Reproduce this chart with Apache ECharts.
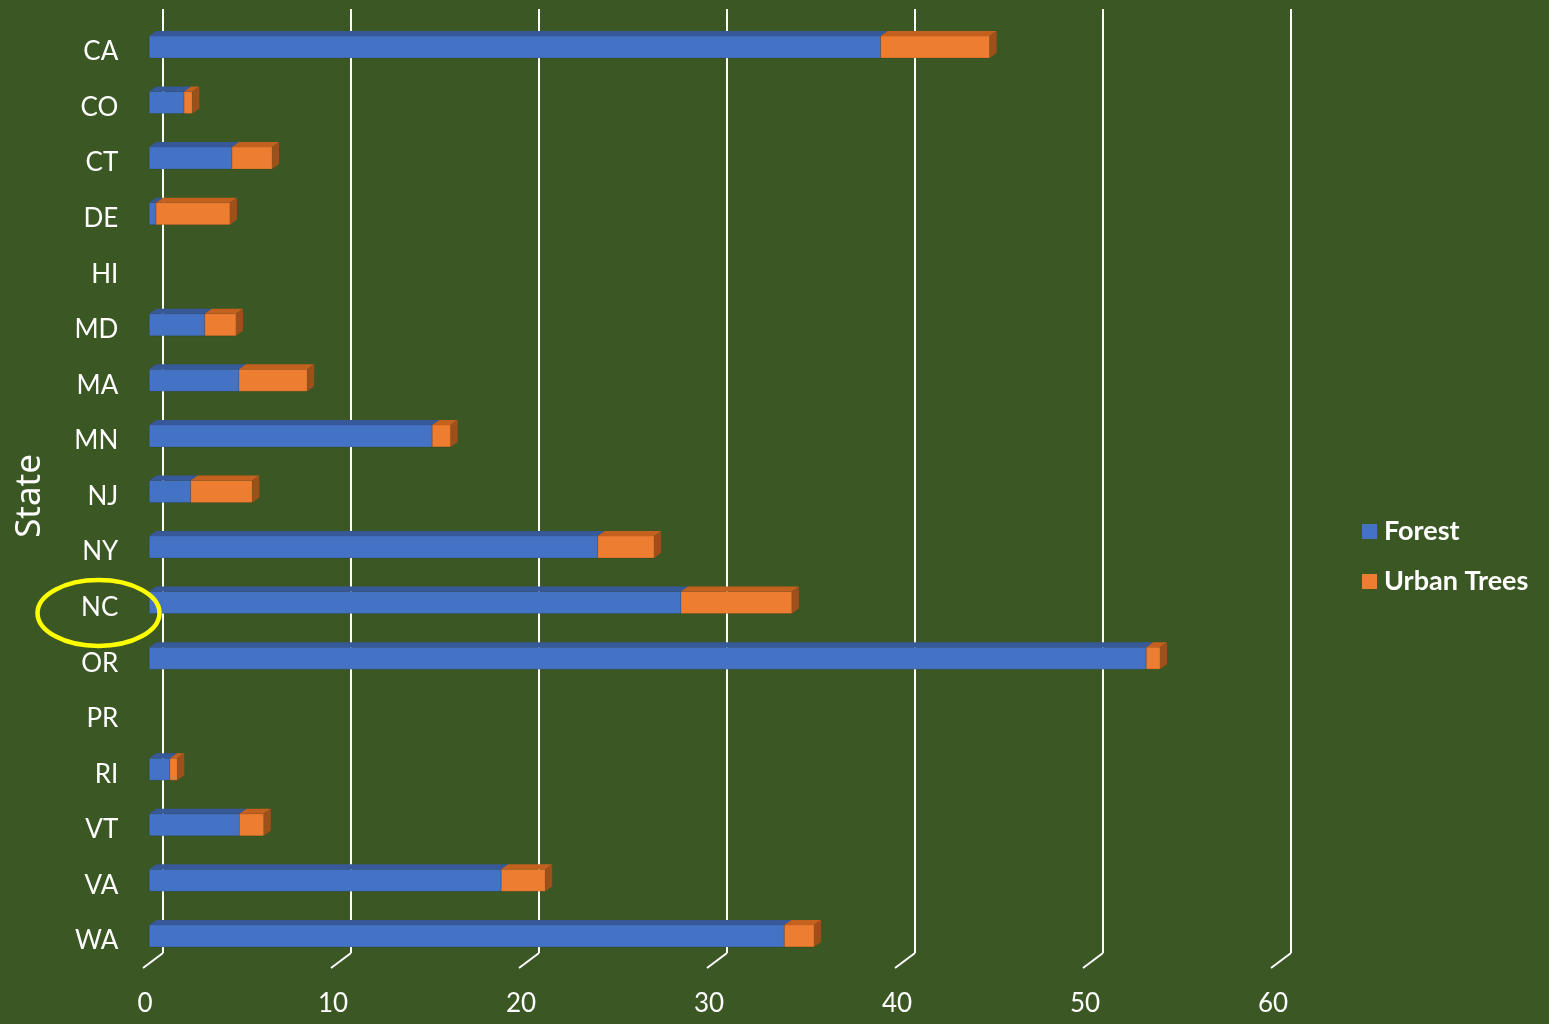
<!DOCTYPE html>
<html>
<head>
<meta charset="utf-8">
<title>Forest and Urban Trees by State</title>
<script src="https://cdn.jsdelivr.net/npm/echarts@6/dist/echarts.min.js"></script>
<style>
  html, body { margin: 0; padding: 0; background: #3A5724; }
  #chart { width: 1549px; height: 1024px; }
</style>
</head>
<body>
<div id="chart"></div>
<script>
// Categories and values (stacked: Forest + Urban Trees)
const states = ['CA', 'CO', 'CT', 'DE', 'HI', 'MD', 'MA', 'MN', 'NJ', 'NY', 'NC', 'OR', 'PR', 'RI', 'VT', 'VA', 'WA'];
const forest = [38.9, 1.85, 4.4, 0.36, 0, 2.95, 4.77, 15.05, 2.2, 23.85, 28.28, 53.03, 0, 1.1, 4.79, 18.72, 33.78];
const urbanTrees = [5.8, 0.44, 2.13, 3.93, 0, 1.66, 3.63, 0.98, 3.28, 3.0, 5.9, 0.73, 0, 0.39, 1.3, 2.34, 1.58];
const xTicks = [0, 10, 20, 30, 40, 50, 60];
const seriesNames = ['Forest', 'Urban Trees'];

const chart = echarts.init(document.getElementById('chart'), null, { renderer: 'canvas' });

// 3D look: every bar segment gets a front face, a top face and a right side face
const DEPTH_X = 7, DEPTH_Y = 5, BAR_H = 22;
const palette = {
  Forest: { front: '#4472C4', top: '#37599A', side: '#2F4F8A' },
  'Urban Trees': { front: '#ED7D31', top: '#C4611F', side: '#9E501B' }
};

function makeBarRenderer(name) {
  const c = palette[name];
  return function (params, api) {
    const a = api.value(0), b = api.value(1), cat = api.value(2);
    if (b - a <= 0) return null;
    const s = api.coord([a, cat]);
    const e = api.coord([b, cat]);
    const x0 = s[0], x1 = e[0];
    const y0 = s[1] - BAR_H / 2, y1 = y0 + BAR_H;
    return {
      type: 'group',
      children: [
        { type: 'rect', shape: { x: x0, y: y0, width: x1 - x0, height: BAR_H },
          style: { fill: c.front, stroke: 'rgba(0,0,0,0.12)', lineWidth: 1 } },
        { type: 'polygon', shape: { points: [[x0, y0], [x1, y0], [x1 + DEPTH_X, y0 - DEPTH_Y], [x0 + DEPTH_X, y0 - DEPTH_Y]] },
          style: { fill: c.top } },
        { type: 'polygon', shape: { points: [[x1, y0], [x1 + DEPTH_X, y0 - DEPTH_Y], [x1 + DEPTH_X, y1 - DEPTH_Y], [x1, y1]] },
          style: { fill: c.side } }
      ]
    };
  };
}

const forestData = states.map((s, i) => [0, forest[i], i]);
const urbanData = states.map((s, i) => [forest[i], forest[i] + urbanTrees[i], i]);

const labelFont = 'Lato, "Open Sans", sans-serif';

const option = {
  backgroundColor: '#3A5724',
  animation: false,
  grid: [
    // back wall with gridlines
    { left: 163, top: 9, width: 1128, height: 944 },
    // bars
    { left: 149.3, top: 19.2, width: 1128, height: 944.5 },
    // front floor edge carrying the value labels
    { left: 145, top: 9, width: 1128, height: 959 },
    // category labels, set a little lower than the bar faces
    { left: 149.3, top: 24.2, width: 1128, height: 944.5 }
  ],
  xAxis: [
    { gridIndex: 0, type: 'value', min: 0, max: 60, interval: 10,
      axisLine: { show: false }, axisTick: { show: false }, axisLabel: { show: false },
      splitLine: { show: true, lineStyle: { color: '#FFFFFF', width: 2 } } },
    { gridIndex: 1, type: 'value', min: 0, max: 60, interval: 10,
      axisLine: { show: false }, axisTick: { show: false }, axisLabel: { show: false }, splitLine: { show: false } },
    { gridIndex: 2, type: 'value', min: 0, max: 60, interval: 10,
      axisLine: { show: false }, axisTick: { show: false }, splitLine: { show: false },
      axisLabel: { show: true, color: '#FFFFFF', fontSize: 26, fontFamily: labelFont, margin: 23 } },
    { gridIndex: 3, type: 'value', min: 0, max: 60, show: false }
  ],
  yAxis: [
    { gridIndex: 0, type: 'value', min: 0, max: 1, show: false },
    { gridIndex: 1, type: 'category', data: states, inverse: true,
      axisLine: { show: false }, axisTick: { show: false }, splitLine: { show: false }, axisLabel: { show: false } },
    { gridIndex: 2, type: 'value', min: 0, max: 1, show: false },
    { gridIndex: 3, type: 'category', data: states, inverse: true,
      axisLine: { show: false }, axisTick: { show: false }, splitLine: { show: false },
      axisLabel: { color: '#FFFFFF', fontSize: 26, fontFamily: labelFont, margin: 31 } }
  ],
  legend: {
    data: seriesNames,
    orient: 'vertical',
    left: 1357,
    top: 513,
    icon: 'rect',
    itemWidth: 15,
    itemHeight: 15,
    itemGap: 23,
    textStyle: { color: '#FFFFFF', fontSize: 27, fontWeight: 'bold', fontFamily: labelFont, padding: [0, 0, 0, 2] }
  },
  series: [
    {
      // diagonal floor ticks joining the wall gridlines to the front edge
      name: 'floorTicks', type: 'custom', xAxisIndex: 0, yAxisIndex: 0,
      data: xTicks.map(v => [v, 0]), silent: true, z: 1,
      renderItem: function (params, api) {
        const p = api.coord([api.value(0), api.value(1)]);
        return { type: 'line', shape: { x1: p[0], y1: p[1], x2: p[0] - 20, y2: p[1] + 15 },
          style: { stroke: '#FFFFFF', lineWidth: 2 } };
      }
    },
    {
      name: 'Forest', type: 'custom', xAxisIndex: 1, yAxisIndex: 1, z: 3,
      itemStyle: { color: palette.Forest.front },
      encode: { x: [0, 1], y: 2 },
      data: forestData,
      renderItem: makeBarRenderer('Forest')
    },
    {
      name: 'Urban Trees', type: 'custom', xAxisIndex: 1, yAxisIndex: 1, z: 4,
      itemStyle: { color: palette['Urban Trees'].front },
      encode: { x: [0, 1], y: 2 },
      data: urbanData,
      renderItem: makeBarRenderer('Urban Trees')
    }
  ],
  graphic: [
    { type: 'text', left: 13, top: 454, rotation: Math.PI / 2,
      style: { text: 'State', fill: '#FFFFFF', fontSize: 35, fontFamily: '"Noto Sans", "Open Sans", sans-serif' } },
    { type: 'ellipse', shape: { cx: 98.5, cy: 613, rx: 61, ry: 33 },
      style: { fill: 'none', stroke: '#FFFF00', lineWidth: 4.5 }, z: 100 }
  ]
};

chart.setOption(option);
</script>
</body>
</html>
